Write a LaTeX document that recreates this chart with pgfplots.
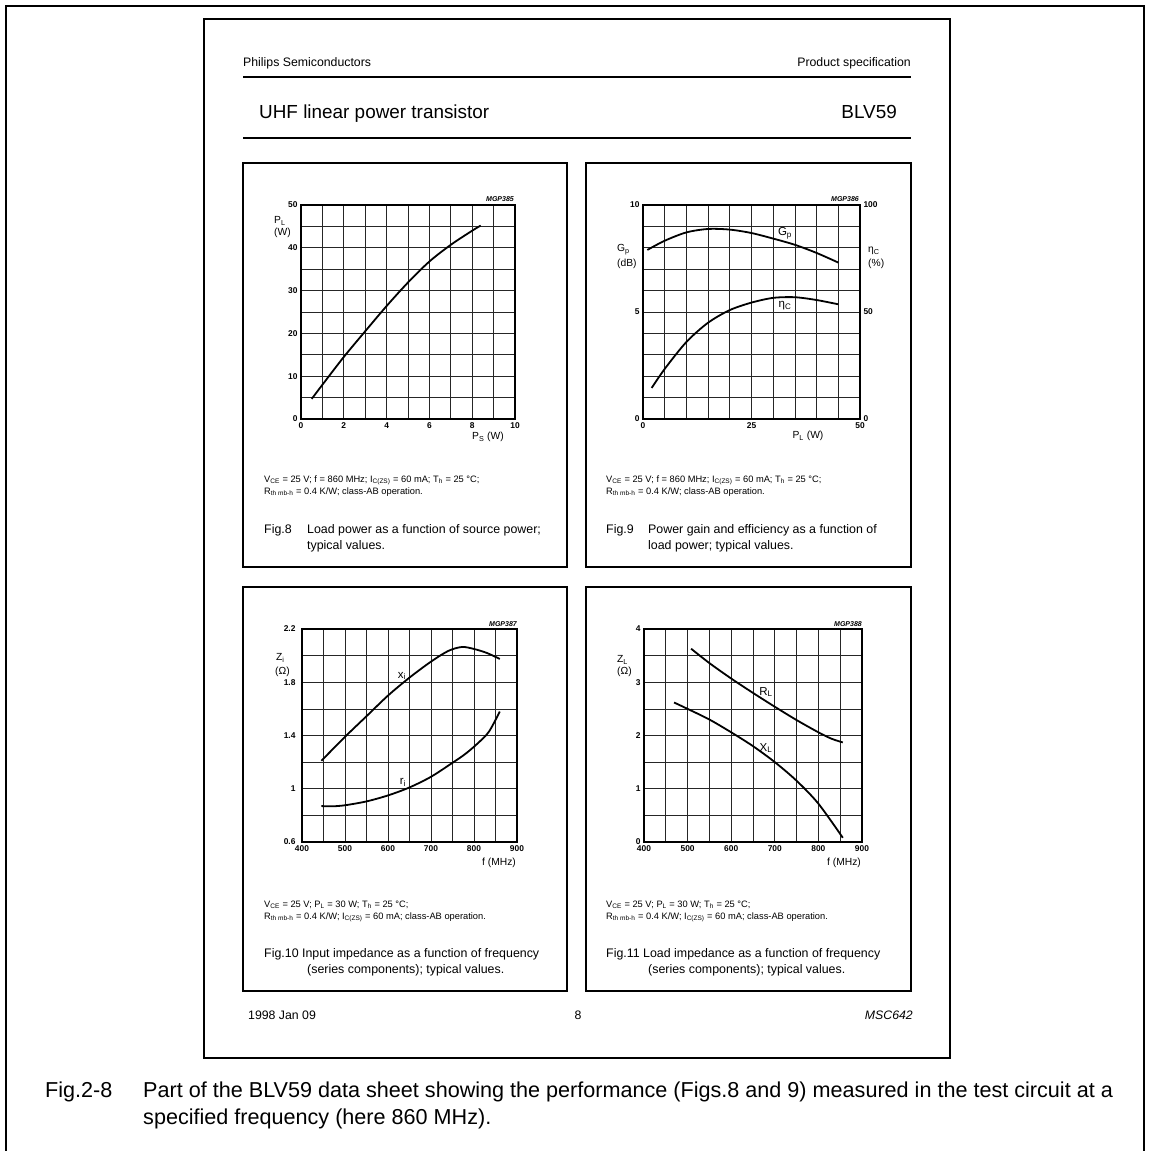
\documentclass[border=0pt]{standalone}
\usepackage{fontspec}
\setmainfont{Liberation Sans}
\usepackage{pgfplots}
\pgfplotsset{compat=1.18}
\newcommand{\tl}{\fontsize{8.4}{8.4}\selectfont\bfseries}
\newcommand{\al}{\fontsize{10.3}{10.3}\selectfont}
\newcommand{\cl}{\fontsize{11.5}{11.5}\selectfont}
\newcommand{\cond}{\fontsize{9.3}{9.3}\selectfont}
\newcommand{\capf}{\fontsize{12.4}{12.4}\selectfont}
\newcommand{\mgp}{\fontsize{7}{7}\selectfont\bfseries\itshape}
\pgfplotsset{ds/.style={scale only axis, clip=false,
  axis line style={line width=1.2pt},
  grid=both, major grid style={black!85, line width=0.65pt}, minor grid style={black!85, line width=0.65pt},
  major tick length=0pt, minor tick length=0pt, tick style={draw=none},
  ticklabel style={font=\tl},
  /pgf/number format/assume math mode=true,
  every axis plot post/.append style={black, line width=1.8pt, smooth, tension=0.5, mark=none}}}
\begin{document}
\begin{tikzpicture}
\begin{scope}[x=1pt,y=-1pt]
\path[use as bounding box] (0,0) rectangle (1152,1151);
\draw[line width=2pt] (6,1152) -- (6,6) -- (1144,6) -- (1144,1152);
\draw[line width=1.8pt] (204,19) rectangle (950,1058);
% header
\node[anchor=base west, font=\fontsize{12.3}{12.3}\selectfont, inner sep=0] at (243,66) {Philips Semiconductors};
\node[anchor=base east, font=\fontsize{12.3}{12.3}\selectfont, inner sep=0] at (911,66) {Product specification};
\draw[line width=1.5pt] (243,77) -- (911,77);
\node[anchor=base west, font=\fontsize{18.9}{18.9}\selectfont, inner sep=0] at (259,118) {UHF linear power transistor};
\node[anchor=base east, font=\fontsize{18.9}{18.9}\selectfont, inner sep=0] at (897,118) {BLV59};
\draw[line width=1.5pt] (243,138) -- (911,138);
% panel boxes
\draw[line width=1.3pt] (243,163) rectangle (567,567);
\draw[line width=1.3pt] (586,163) rectangle (911,567);
\draw[line width=1.3pt] (243,587) rectangle (567,991);
\draw[line width=1.3pt] (586,587) rectangle (911,991);
% footer
\node[anchor=base west, font=\fontsize{12.3}{12.3}\selectfont, inner sep=0] at (248,1019) {1998 Jan 09};
\node[anchor=base, font=\fontsize{12.3}{12.3}\selectfont, inner sep=0] at (578,1019) {8};
\node[anchor=base east, font=\fontsize{12.3}{12.3}\selectfont\itshape, inner sep=0] at (913,1019) {MSC642};
% bottom caption
\node[anchor=base west, font=\fontsize{21.6}{21.6}\selectfont, inner sep=0] at (45,1097) {Fig.2-8};
\node[anchor=base west, font=\fontsize{21.6}{21.6}\selectfont, inner sep=0] at (143,1097) {Part of the BLV59 data sheet showing the performance (Figs.8 and 9) measured in the test circuit at a};
\node[anchor=base west, font=\fontsize{21.6}{21.6}\selectfont, inner sep=0] at (143,1124) {specified frequency (here 860 MHz).};
% fig8 texts
\node[anchor=base west, font=\cond, inner sep=0] at (264,482) {V\textsubscript{CE} = 25 V; f = 860 MHz; I\textsubscript{C(ZS)} = 60 mA; T\textsubscript{h} = 25 °C;};
\node[anchor=base west, font=\cond, inner sep=0] at (264,494) {R\textsubscript{th mb-h} = 0.4 K/W; class-AB operation.};
\node[anchor=base west, font=\capf, inner sep=0] at (264,533) {Fig.8};
\node[anchor=base west, font=\capf, inner sep=0] at (307,533) {Load power as a function of source power;};
\node[anchor=base west, font=\capf, inner sep=0] at (307,549) {typical values.};
% fig9 texts
\node[anchor=base west, font=\cond, inner sep=0] at (606,482) {V\textsubscript{CE} = 25 V; f = 860 MHz; I\textsubscript{C(ZS)} = 60 mA; T\textsubscript{h} = 25 °C;};
\node[anchor=base west, font=\cond, inner sep=0] at (606,494) {R\textsubscript{th mb-h} = 0.4 K/W; class-AB operation.};
\node[anchor=base west, font=\capf, inner sep=0] at (606,533) {Fig.9};
\node[anchor=base west, font=\capf, inner sep=0] at (648,533) {Power gain and efficiency as a function of};
\node[anchor=base west, font=\capf, inner sep=0] at (648,549) {load power; typical values.};
% fig10 texts
\node[anchor=base west, font=\cond, inner sep=0] at (264,907) {V\textsubscript{CE} = 25 V; P\textsubscript{L} = 30 W; T\textsubscript{h} = 25 °C;};
\node[anchor=base west, font=\cond, inner sep=0] at (264,919) {R\textsubscript{th mb-h} = 0.4 K/W; I\textsubscript{C(ZS)} = 60 mA; class-AB operation.};
\node[anchor=base west, font=\capf, inner sep=0] at (264,957) {Fig.10 Input impedance as a function of frequency};
\node[anchor=base west, font=\capf, inner sep=0] at (307,973) {(series components); typical values.};
% fig11 texts
\node[anchor=base west, font=\cond, inner sep=0] at (606,907) {V\textsubscript{CE} = 25 V; P\textsubscript{L} = 30 W; T\textsubscript{h} = 25 °C;};
\node[anchor=base west, font=\cond, inner sep=0] at (606,919) {R\textsubscript{th mb-h} = 0.4 K/W; I\textsubscript{C(ZS)} = 60 mA; class-AB operation.};
\node[anchor=base west, font=\capf, inner sep=0] at (606,957) {Fig.11 Load impedance as a function of frequency};
\node[anchor=base west, font=\capf, inner sep=0] at (648,973) {(series components); typical values.};
% axis labels
\node[anchor=west, font=\al, inner sep=0] at (274,221) {P\textsubscript{L}};
\node[anchor=west, font=\al, inner sep=0] at (274,233) {(W)};
\node[font=\al, inner sep=0] at (488,437) {P\textsubscript{S} (W)};
\node[anchor=mid west, font=\al, inner sep=0] at (617,249) {G\textsubscript{p}};
\node[anchor=west, font=\al, inner sep=0] at (617,264) {(dB)};
\node[anchor=mid west, font=\al, inner sep=0] at (868,250) {η\textsubscript{C}};
\node[anchor=west, font=\al, inner sep=0] at (868,264) {(\%)};
\node[font=\al, inner sep=0] at (808,436) {P\textsubscript{L} (W)};
\node[font=\cl, inner sep=0] at (785,233) {G\textsubscript{p}};
\node[font=\cl, inner sep=0] at (785,306) {η\textsubscript{C}};
\node[anchor=mid west, font=\al, inner sep=0] at (276,658) {Z\textsubscript{i}};
\node[anchor=west, font=\al, inner sep=0] at (275,672) {(Ω)};
\node[font=\cl, inner sep=0] at (402,676) {x\textsubscript{i}};
\node[font=\cl, inner sep=0] at (403,782) {r\textsubscript{i}};
\node[font=\al, inner sep=0] at (499,863) {f (MHz)};
\node[anchor=mid west, font=\al, inner sep=0] at (617,660) {Z\textsubscript{L}};
\node[anchor=west, font=\al, inner sep=0] at (617,672) {(Ω)};
\node[font=\cl, inner sep=0] at (766,692) {R\textsubscript{L}};
\node[font=\cl, inner sep=0] at (766,748) {X\textsubscript{L}};
\node[font=\al, inner sep=0] at (844,863) {f (MHz)};
\node[anchor=base east, font=\mgp, inner sep=0] at (514,201) {MGP385};
\node[anchor=base east, font=\mgp, inner sep=0] at (859,201) {MGP386};
\node[anchor=base east, font=\mgp, inner sep=0] at (517,626) {MGP387};
\node[anchor=base east, font=\mgp, inner sep=0] at (862,626) {MGP388};
\end{scope}
% Fig 8
\begin{axis}[ds, at={(301pt,-419pt)}, anchor=south west, width=214pt, height=214pt,
  xmin=0, xmax=10, ymin=0, ymax=50,
  xtick={0,2,...,10}, minor xtick={1,3,...,9},
  ytick={0,10,...,50}, minor ytick={5,15,...,45}]
\addplot coordinates {(0.5,4.7) (1,8.0) (2,14.5) (3,20.5) (4,26.4) (5,31.9) (6,36.8) (7,40.7) (8,44.0) (8.4,45.2)};
\end{axis}
% Fig 9
\begin{axis}[ds, at={(643pt,-419pt)}, anchor=south west, width=217pt, height=214pt,
  xmin=0, xmax=50, ymin=0, ymax=10,
  xtick={0,25,50}, minor xtick={5,10,15,20,30,35,40,45},
  ytick={0,5,10}, minor ytick={1,2,3,4,6,7,8,9}]
\addplot coordinates {(1,7.9) (5,8.33) (10,8.72) (15,8.88) (20,8.85) (25,8.69) (30,8.43) (35,8.14) (40,7.76) (45,7.31)};
\end{axis}
\begin{axis}[scale only axis, clip=false, at={(643pt,-419pt)}, anchor=south west, width=217pt, height=214pt,
  xmin=0, xmax=50, ymin=0, ymax=100, hide x axis, axis y line*=right,
  y axis line style={line width=1.2pt}, ytick={0,50,100}, major tick length=0pt, tick style={draw=none},
  ticklabel style={font=\tl}, /pgf/number format/assume math mode=true,
  every axis plot post/.append style={black, line width=1.8pt, smooth, tension=0.5, mark=none}]
\addplot coordinates {(2,14.5) (5,23.4) (10,36) (15,45) (20,50.9) (25,54.4) (30,56.6) (35,56.9) (40,55.6) (45,53.6)};
\end{axis}
% Fig 10
\begin{axis}[ds, at={(302pt,-842pt)}, anchor=south west, width=215pt, height=213pt,
  xmin=400, xmax=900, ymin=0.6, ymax=2.2,
  xtick={400,500,...,900}, minor xtick={450,550,...,850},
  ytick={0.6,1,1.4,1.8,2.2}, yticklabels={0.6,1,1.4,1.8,2.2}, minor ytick={0.8,1.2,1.6,2.0},
  yticklabel style={xshift=-3pt}]
\addplot coordinates {(445,1.21) (500,1.39) (550,1.545) (600,1.70) (650,1.835) (700,1.955) (740,2.035) (772,2.065) (800,2.05) (830,2.02) (860,1.975)};
\addplot coordinates {(445,0.87) (470,0.868) (500,0.876) (550,0.905) (600,0.95) (650,1.01) (700,1.09) (750,1.195) (780,1.262) (810,1.345) (835,1.43) (860,1.58)};
\end{axis}
% Fig 11
\begin{axis}[ds, at={(644pt,-842pt)}, anchor=south west, width=218pt, height=213pt,
  xmin=400, xmax=900, ymin=0, ymax=4,
  xtick={400,500,...,900}, minor xtick={450,550,...,850},
  ytick={0,1,2,3,4}, minor ytick={0.5,1.5,2.5,3.5}]
\addplot coordinates {(508,3.63) (550,3.36) (600,3.07) (650,2.80) (700,2.54) (750,2.29) (800,2.06) (830,1.94) (856,1.87)};
\addplot coordinates {(469,2.62) (500,2.50) (550,2.30) (600,2.06) (650,1.80) (700,1.50) (750,1.15) (800,0.72) (856,0.08)};
\end{axis}
\end{tikzpicture}
\end{document}
